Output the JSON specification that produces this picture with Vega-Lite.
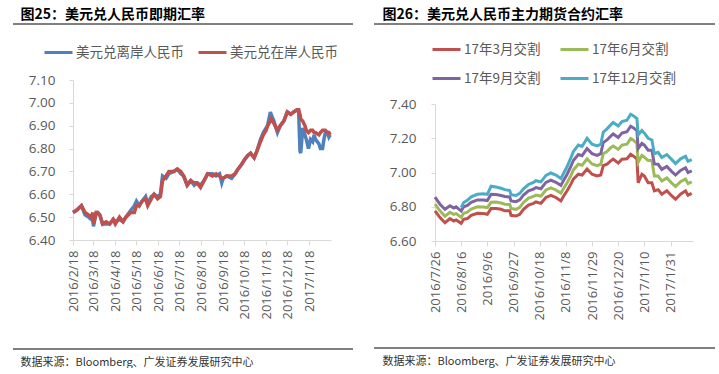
{
  "$schema": "https://vega.github.io/schema/vega-lite/v6.json",
  "padding": {"left": 12, "top": 8, "right": 0, "bottom": 0},
  "background": "white",
  "spacing": 19,
  "resolve": {"scale": {"color": "independent", "x": "independent", "y": "independent"}, "legend": {"color": "independent"}},
  "config": {
    "view": {"stroke": null},
    "font": "Noto Sans CJK SC",
    "axis": {"grid": false, "domainColor": "#d9d9d9", "tickColor": "#d9d9d9", "labelColor": "#595959", "labelFont": "Open Sans", "title": null},
    "legend": {"symbolType": "stroke", "symbolSize": 784, "symbolStrokeWidth": 3, "labelFont": "Noto Sans CJK SC", "labelFontSize": 13.5, "labelColor": "#595959", "labelOffset": 2, "title": null},
    "title": {"font": "Noto Sans CJK SC"}
  },
  "datasets": {
    "spot": [
      {"d": "2016-02-18", "美元兑离岸人民币": 6.52, "美元兑在岸人民币": 6.52},
      {"d": "2016-02-23", "美元兑离岸人民币": 6.53, "美元兑在岸人民币": 6.53},
      {"d": "2016-03-01", "美元兑离岸人民币": 6.55, "美元兑在岸人民币": 6.55},
      {"d": "2016-03-06", "美元兑离岸人民币": 6.51, "美元兑在岸人民币": 6.52},
      {"d": "2016-03-11", "美元兑离岸人民币": 6.50, "美元兑在岸人民币": 6.51},
      {"d": "2016-03-15", "美元兑离岸人民币": 6.49, "美元兑在岸人民币": 6.50},
      {"d": "2016-03-17", "美元兑离岸人民币": 6.51, "美元兑在岸人民币": 6.52},
      {"d": "2016-03-18", "美元兑离岸人民币": 6.46, "美元兑在岸人民币": 6.47},
      {"d": "2016-03-22", "美元兑离岸人民币": 6.52, "美元兑在岸人民币": 6.52},
      {"d": "2016-03-24", "美元兑离岸人民币": 6.52, "美元兑在岸人民币": 6.52},
      {"d": "2016-03-27", "美元兑离岸人民币": 6.51, "美元兑在岸人民币": 6.51},
      {"d": "2016-03-31", "美元兑离岸人民币": 6.47, "美元兑在岸人民币": 6.47},
      {"d": "2016-04-05", "美元兑离岸人民币": 6.47, "美元兑在岸人民币": 6.48},
      {"d": "2016-04-10", "美元兑离岸人民币": 6.47, "美元兑在岸人民币": 6.47},
      {"d": "2016-04-15", "美元兑离岸人民币": 6.49, "美元兑在岸人民币": 6.49},
      {"d": "2016-04-18", "美元兑离岸人民币": 6.48, "美元兑在岸人民币": 6.47},
      {"d": "2016-04-24", "美元兑离岸人民币": 6.49, "美元兑在岸人民币": 6.50},
      {"d": "2016-04-29", "美元兑离岸人民币": 6.48, "美元兑在岸人民币": 6.48},
      {"d": "2016-05-03", "美元兑离岸人民币": 6.50, "美元兑在岸人民币": 6.50},
      {"d": "2016-05-10", "美元兑离岸人民币": 6.53, "美元兑在岸人民币": 6.52},
      {"d": "2016-05-15", "美元兑离岸人民币": 6.55, "美元兑在岸人民币": 6.52},
      {"d": "2016-05-18", "美元兑离岸人民币": 6.57, "美元兑在岸人民币": 6.55},
      {"d": "2016-05-22", "美元兑离岸人民币": 6.55, "美元兑在岸人民币": 6.55},
      {"d": "2016-05-26", "美元兑离岸人民币": 6.57, "美元兑在岸人民币": 6.57},
      {"d": "2016-05-31", "美元兑离岸人民币": 6.59, "美元兑在岸人民币": 6.58},
      {"d": "2016-06-03", "美元兑离岸人民币": 6.56, "美元兑在岸人民币": 6.55},
      {"d": "2016-06-08", "美元兑离岸人民币": 6.59, "美元兑在岸人民币": 6.58},
      {"d": "2016-06-12", "美元兑离岸人民币": 6.60, "美元兑在岸人民币": 6.60},
      {"d": "2016-06-17", "美元兑离岸人民币": 6.59, "美元兑在岸人民币": 6.58},
      {"d": "2016-06-21", "美元兑离岸人民币": 6.60, "美元兑在岸人民币": 6.59},
      {"d": "2016-06-24", "美元兑离岸人民币": 6.68, "美元兑在岸人民币": 6.66},
      {"d": "2016-06-29", "美元兑离岸人民币": 6.67, "美元兑在岸人民币": 6.68},
      {"d": "2016-07-03", "美元兑离岸人民币": 6.69, "美元兑在岸人民币": 6.70},
      {"d": "2016-07-10", "美元兑离岸人民币": 6.70, "美元兑在岸人民币": 6.70},
      {"d": "2016-07-15", "美元兑离岸人民币": 6.71, "美元兑在岸人民币": 6.71},
      {"d": "2016-07-20", "美元兑离岸人民币": 6.69, "美元兑在岸人民币": 6.70},
      {"d": "2016-07-24", "美元兑离岸人民币": 6.68, "美元兑在岸人民币": 6.68},
      {"d": "2016-07-29", "美元兑离岸人民币": 6.64, "美元兑在岸人民币": 6.64},
      {"d": "2016-08-03", "美元兑离岸人民币": 6.66, "美元兑在岸人民币": 6.66},
      {"d": "2016-08-08", "美元兑离岸人民币": 6.64, "美元兑在岸人民币": 6.65},
      {"d": "2016-08-12", "美元兑离岸人民币": 6.65, "美元兑在岸人民币": 6.65},
      {"d": "2016-08-17", "美元兑离岸人民币": 6.64, "美元兑在岸人民币": 6.63},
      {"d": "2016-08-22", "美元兑离岸人民币": 6.66, "美元兑在岸人民币": 6.66},
      {"d": "2016-08-27", "美元兑离岸人民币": 6.69, "美元兑在岸人民币": 6.69},
      {"d": "2016-09-03", "美元兑离岸人民币": 6.69, "美元兑在岸人民币": 6.68},
      {"d": "2016-09-08", "美元兑离岸人民币": 6.68, "美元兑在岸人民币": 6.69},
      {"d": "2016-09-13", "美元兑离岸人民币": 6.69, "美元兑在岸人民币": 6.68},
      {"d": "2016-09-16", "美元兑离岸人民币": 6.65, "美元兑在岸人民币": 6.67},
      {"d": "2016-09-18", "美元兑离岸人民币": 6.67, "美元兑在岸人民币": 6.67},
      {"d": "2016-09-23", "美元兑离岸人民币": 6.68, "美元兑在岸人民币": 6.68},
      {"d": "2016-09-30", "美元兑离岸人民币": 6.67, "美元兑在岸人民币": 6.68},
      {"d": "2016-10-05", "美元兑离岸人民币": 6.69, "美元兑在岸人民币": 6.69},
      {"d": "2016-10-09", "美元兑离岸人民币": 6.71, "美元兑在岸人民币": 6.71},
      {"d": "2016-10-14", "美元兑离岸人民币": 6.73, "美元兑在岸人民币": 6.73},
      {"d": "2016-10-18", "美元兑离岸人民币": 6.75, "美元兑在岸人民币": 6.75},
      {"d": "2016-10-23", "美元兑离岸人民币": 6.77, "美元兑在岸人民币": 6.77},
      {"d": "2016-10-27", "美元兑离岸人民币": 6.78, "美元兑在岸人民币": 6.78},
      {"d": "2016-11-01", "美元兑离岸人民币": 6.76, "美元兑在岸人民币": 6.76},
      {"d": "2016-11-05", "美元兑离岸人民币": 6.79, "美元兑在岸人民币": 6.79},
      {"d": "2016-11-10", "美元兑离岸人民币": 6.84, "美元兑在岸人民币": 6.83},
      {"d": "2016-11-14", "美元兑离岸人民币": 6.87, "美元兑在岸人民币": 6.86},
      {"d": "2016-11-18", "美元兑离岸人民币": 6.89, "美元兑在岸人民币": 6.88},
      {"d": "2016-11-20", "美元兑离岸人民币": 6.90, "美元兑在岸人民币": 6.90},
      {"d": "2016-11-24", "美元兑离岸人民币": 6.96, "美元兑在岸人民币": 6.92},
      {"d": "2016-11-25", "美元兑离岸人民币": 6.95, "美元兑在岸人民币": 6.93},
      {"d": "2016-11-29", "美元兑离岸人民币": 6.92, "美元兑在岸人民币": 6.91},
      {"d": "2016-12-04", "美元兑离岸人民币": 6.87, "美元兑在岸人民币": 6.88},
      {"d": "2016-12-08", "美元兑离岸人民币": 6.90, "美元兑在岸人民币": 6.90},
      {"d": "2016-12-13", "美元兑离岸人民币": 6.92, "美元兑在岸人民币": 6.92},
      {"d": "2016-12-18", "美元兑离岸人民币": 6.96, "美元兑在岸人民币": 6.96},
      {"d": "2016-12-23", "美元兑离岸人民币": 6.95, "美元兑在岸人民币": 6.95},
      {"d": "2016-12-27", "美元兑离岸人民币": 6.96, "美元兑在岸人民币": 6.96},
      {"d": "2017-01-01", "美元兑离岸人民币": 6.97, "美元兑在岸人民币": 6.97},
      {"d": "2017-01-03", "美元兑离岸人民币": 6.97, "美元兑在岸人民币": 6.97},
      {"d": "2017-01-05", "美元兑离岸人民币": 6.79, "美元兑在岸人民币": 6.95},
      {"d": "2017-01-06", "美元兑离岸人民币": 6.78, "美元兑在岸人民币": 6.93},
      {"d": "2017-01-09", "美元兑离岸人民币": 6.89, "美元兑在岸人民币": 6.92},
      {"d": "2017-01-12", "美元兑离岸人民币": 6.86, "美元兑在岸人民币": 6.90},
      {"d": "2017-01-14", "美元兑离岸人民币": 6.84, "美元兑在岸人民币": 6.88},
      {"d": "2017-01-17", "美元兑离岸人民币": 6.80, "美元兑在岸人民币": 6.87},
      {"d": "2017-01-20", "美元兑离岸人民币": 6.84, "美元兑在岸人民币": 6.88},
      {"d": "2017-01-23", "美元兑离岸人民币": 6.83, "美元兑在岸人民币": 6.88},
      {"d": "2017-01-25", "美元兑离岸人民币": 6.86, "美元兑在岸人民币": 6.87},
      {"d": "2017-01-27", "美元兑离岸人民币": 6.84, "美元兑在岸人民币": 6.87},
      {"d": "2017-02-01", "美元兑离岸人民币": 6.82, "美元兑在岸人民币": 6.86},
      {"d": "2017-02-03", "美元兑离岸人民币": 6.80, "美元兑在岸人民币": 6.87},
      {"d": "2017-02-06", "美元兑离岸人民币": 6.80, "美元兑在岸人民币": 6.88},
      {"d": "2017-02-08", "美元兑离岸人民币": 6.84, "美元兑在岸人民币": 6.88},
      {"d": "2017-02-10", "美元兑离岸人民币": 6.87, "美元兑在岸人民币": 6.88},
      {"d": "2017-02-13", "美元兑离岸人民币": 6.87, "美元兑在岸人民币": 6.87},
      {"d": "2017-02-15", "美元兑离岸人民币": 6.85, "美元兑在岸人民币": 6.87},
      {"d": "2017-02-17", "美元兑离岸人民币": 6.86, "美元兑在岸人民币": 6.86}
    ],
    "fut": [
      {"d": "2016-07-26", "17年3月交割": 6.776, "17年6月交割": 6.815, "17年9月交割": 6.856},
      {"d": "2016-07-30", "17年3月交割": 6.737, "17年6月交割": 6.776, "17年9月交割": 6.815},
      {"d": "2016-08-03", "17年3月交割": 6.707, "17年6月交割": 6.745, "17年9月交割": 6.785},
      {"d": "2016-08-07", "17年3月交割": 6.731, "17年6月交割": 6.768, "17年9月交割": 6.806},
      {"d": "2016-08-10", "17年3月交割": 6.717, "17年6月交割": 6.755, "17年9月交割": 6.792},
      {"d": "2016-08-12", "17年3月交割": 6.723, "17年6月交割": 6.760, "17年9月交割": 6.800},
      {"d": "2016-08-16", "17年3月交割": 6.703, "17年6月交割": 6.738, "17年9月交割": 6.775, "17年12月交割": 6.795},
      {"d": "2016-08-18", "17年3月交割": 6.727, "17年6月交割": 6.762, "17年9月交割": 6.800, "17年12月交割": 6.825},
      {"d": "2016-08-21", "17年3月交割": 6.731, "17年6月交割": 6.768, "17年9月交割": 6.808, "17年12月交割": 6.838},
      {"d": "2016-08-24", "17年3月交割": 6.750, "17年6月交割": 6.787, "17年9月交割": 6.826, "17年12月交割": 6.858},
      {"d": "2016-08-29", "17年3月交割": 6.762, "17年6月交割": 6.800, "17年9月交割": 6.840, "17年12月交割": 6.873},
      {"d": "2016-09-03", "17年3月交割": 6.760, "17年6月交割": 6.798, "17年9月交割": 6.840, "17年12月交割": 6.876},
      {"d": "2016-09-06", "17年3月交割": 6.756, "17年6月交割": 6.795, "17年9月交割": 6.836, "17年12月交割": 6.872},
      {"d": "2016-09-09", "17年3月交割": 6.790, "17年6月交割": 6.826, "17年9月交割": 6.873, "17年12月交割": 6.920},
      {"d": "2016-09-13", "17年3月交割": 6.790, "17年6月交割": 6.828, "17年9月交割": 6.872, "17年12月交割": 6.915},
      {"d": "2016-09-17", "17年3月交割": 6.785, "17年6月交割": 6.822, "17年9月交割": 6.866, "17年12月交割": 6.908},
      {"d": "2016-09-20", "17年3月交割": 6.776, "17年6月交割": 6.815, "17年9月交割": 6.860, "17年12月交割": 6.900},
      {"d": "2016-09-24", "17年3月交割": 6.776, "17年6月交割": 6.813, "17年9月交割": 6.857, "17年12月交割": 6.895},
      {"d": "2016-09-25", "17年3月交割": 6.750, "17年6月交割": 6.790, "17年9月交割": 6.834, "17年12月交割": 6.870},
      {"d": "2016-09-29", "17年3月交割": 6.746, "17年6月交割": 6.785, "17年9月交割": 6.830, "17年12月交割": 6.866},
      {"d": "2016-10-02", "17年3月交割": 6.756, "17年6月交割": 6.796, "17年9月交割": 6.840, "17年12月交割": 6.878},
      {"d": "2016-10-05", "17年3月交割": 6.785, "17年6月交割": 6.825, "17年9月交割": 6.868, "17年12月交割": 6.905},
      {"d": "2016-10-09", "17年3月交割": 6.810, "17年6月交割": 6.850, "17年9月交割": 6.893, "17年12月交割": 6.930},
      {"d": "2016-10-13", "17年3月交割": 6.820, "17年6月交割": 6.860, "17年9月交割": 6.903, "17年12月交割": 6.942},
      {"d": "2016-10-15", "17年3月交割": 6.828, "17年6月交割": 6.868, "17年9月交割": 6.912, "17年12月交割": 6.952},
      {"d": "2016-10-19", "17年3月交割": 6.820, "17年6月交割": 6.862, "17年9月交割": 6.905, "17年12月交割": 6.945},
      {"d": "2016-10-23", "17年3月交割": 6.854, "17年6月交割": 6.898, "17年9月交割": 6.942, "17年12月交割": 6.983},
      {"d": "2016-10-27", "17年3月交割": 6.867, "17年6月交割": 6.910, "17年9月交割": 6.955, "17年12月交割": 6.997},
      {"d": "2016-10-31", "17年3月交割": 6.854, "17年6月交割": 6.898, "17年9月交割": 6.943, "17年12月交割": 6.985},
      {"d": "2016-11-04", "17年3月交割": 6.834, "17年6月交割": 6.880, "17年9月交割": 6.925, "17年12月交割": 6.965},
      {"d": "2016-11-06", "17年3月交割": 6.860, "17年6月交割": 6.905, "17年9月交割": 6.952, "17年12月交割": 6.993},
      {"d": "2016-11-09", "17年3月交割": 6.893, "17年6月交割": 6.940, "17年9月交割": 6.990, "17年12月交割": 7.035},
      {"d": "2016-11-12", "17年3月交割": 6.932, "17年6月交割": 6.982, "17年9月交割": 7.035, "17年12月交割": 7.085},
      {"d": "2016-11-14", "17年3月交割": 6.961, "17年6月交割": 7.015, "17年9月交割": 7.070, "17年12月交割": 7.122},
      {"d": "2016-11-18", "17年3月交割": 6.990, "17年6月交割": 7.048, "17年9月交割": 7.105, "17年12月交割": 7.160},
      {"d": "2016-11-21", "17年3月交割": 6.985, "17年6月交割": 7.042, "17年9月交割": 7.098, "17年12月交割": 7.152},
      {"d": "2016-11-25", "17年3月交割": 7.020, "17年6月交割": 7.080, "17年9月交割": 7.140, "17年12月交割": 7.200},
      {"d": "2016-11-29", "17年3月交割": 6.990, "17年6月交割": 7.050, "17年9月交割": 7.110, "17年12月交割": 7.165},
      {"d": "2016-12-03", "17年3月交割": 6.980, "17年6月交割": 7.040, "17年9月交割": 7.100, "17年12月交割": 7.155},
      {"d": "2016-12-06", "17年3月交割": 6.985, "17年6月交割": 7.048, "17年9月交割": 7.110, "17年12月交割": 7.165},
      {"d": "2016-12-08", "17年3月交割": 7.040, "17年6月交割": 7.110, "17年9月交割": 7.175, "17年12月交割": 7.235},
      {"d": "2016-12-11", "17年3月交割": 7.049, "17年6月交割": 7.122, "17年9月交割": 7.190, "17年12月交割": 7.255},
      {"d": "2016-12-14", "17年3月交割": 7.068, "17年6月交割": 7.145, "17年9月交割": 7.212, "17年12月交割": 7.278},
      {"d": "2016-12-16", "17年3月交割": 7.078, "17年6月交割": 7.155, "17年9月交割": 7.225, "17年12月交割": 7.292},
      {"d": "2016-12-20", "17年3月交割": 7.055, "17年6月交割": 7.135, "17年9月交割": 7.205, "17年12月交割": 7.272},
      {"d": "2016-12-23", "17年3月交割": 7.078, "17年6月交割": 7.160, "17年9月交割": 7.230, "17年12月交割": 7.298},
      {"d": "2016-12-27", "17年3月交割": 7.080, "17年6月交割": 7.165, "17年9月交割": 7.238, "17年12月交割": 7.305},
      {"d": "2016-12-30", "17年3月交割": 7.107, "17年6月交割": 7.198, "17年9月交割": 7.270, "17年12月交割": 7.340},
      {"d": "2017-01-01", "17年3月交割": 7.097, "17年6月交割": 7.190, "17年9月交割": 7.262, "17年12月交割": 7.332},
      {"d": "2017-01-04", "17年3月交割": 7.080, "17年6月交割": 7.170, "17年9月交割": 7.245, "17年12月交割": 7.315},
      {"d": "2017-01-05", "17年3月交割": 6.940, "17年6月交割": 7.060, "17年9月交割": 7.140, "17年12月交割": 7.220},
      {"d": "2017-01-08", "17年3月交割": 6.990, "17年6月交割": 7.100, "17年9月交割": 7.170, "17年12月交割": 7.245},
      {"d": "2017-01-10", "17年3月交割": 6.980, "17年6月交割": 7.090, "17年9月交割": 7.160, "17年12月交割": 7.230},
      {"d": "2017-01-13", "17年3月交割": 6.940, "17年6月交割": 7.070, "17年9月交割": 7.130, "17年12月交割": 7.200},
      {"d": "2017-01-16", "17年3月交割": 6.940, "17年6月交割": 7.070, "17年9月交割": 7.130, "17年12月交割": 7.190},
      {"d": "2017-01-18", "17年3月交割": 6.893, "17年6月交割": 6.980, "17年9月交割": 7.050, "17年12月交割": 7.110},
      {"d": "2017-01-21", "17年3月交割": 6.900, "17年6月交割": 6.980, "17年9月交割": 7.048, "17年12月交割": 7.118},
      {"d": "2017-01-24", "17年3月交割": 6.873, "17年6月交割": 6.950, "17年9月交割": 7.018, "17年12月交割": 7.088},
      {"d": "2017-01-28", "17年3月交割": 6.893, "17年6月交割": 6.968, "17年9月交割": 7.035, "17年12月交割": 7.105},
      {"d": "2017-02-01", "17年3月交割": 6.863, "17年6月交割": 6.938, "17年9月交割": 7.005, "17年12月交割": 7.075},
      {"d": "2017-02-04", "17年3月交割": 6.844, "17年6月交割": 6.918, "17年9月交割": 6.985, "17年12月交割": 7.052},
      {"d": "2017-02-08", "17年3月交割": 6.873, "17年6月交割": 6.946, "17年9月交割": 7.012, "17年12月交割": 7.080},
      {"d": "2017-02-12", "17年3月交割": 6.893, "17年6月交割": 6.962, "17年9月交割": 7.028, "17年12月交割": 7.095},
      {"d": "2017-02-14", "17年3月交割": 6.867, "17年6月交割": 6.935, "17年9月交割": 7.000, "17年12月交割": 7.065},
      {"d": "2017-02-17", "17年3月交割": 6.878, "17年6月交割": 6.945, "17年9月交割": 7.010, "17年12月交割": 7.075}
    ]
  },
  "hconcat": [
    {
      "spacing": 12,
      "resolve": {"scale": {"color": "independent"}, "legend": {"color": "independent"}},
      "vconcat": [
        {
          "width": 340, "height": 1,
          "data": {"values": [{"rule": 0}]},
          "mark": {"type": "rule", "color": "#000000", "strokeWidth": 1},
          "encoding": {"y": {"field": "rule", "type": "quantitative", "scale": {"domain": [0, 1]}, "axis": null}},
          "title": {"text": "图25：美元兑人民币即期汇率", "anchor": "start", "dx": 8, "offset": 1, "fontSize": 14, "fontWeight": "bold", "color": "#000000"}
        },
        {
          "spacing": 0,
          "resolve": {"scale": {"color": "independent"}, "legend": {"color": "independent"}},
          "hconcat": [
            {"width": 1, "height": 1, "data": {"values": [{}]}, "mark": {"type": "point", "opacity": 0, "size": 0}, "encoding": {}},
            {
              "width": 258, "height": 160,
              "data": {"name": "spot", "format": {"parse": {"d": "date:'%Y-%m-%d'"}}},
              "transform": [{"fold": ["美元兑离岸人民币", "美元兑在岸人民币"], "as": ["series", "value"]}],
              "mark": {"type": "line", "strokeWidth": 3.5},
              "encoding": {
                "x": {
                  "field": "d", "type": "temporal",
                  "scale": {"domain": [{"year": 2016, "month": 2, "date": 18}, {"year": 2017, "month": 2, "date": 18}]},
                  "axis": {
                    "values": [
                      {"year": 2016, "month": 2, "date": 18}, {"year": 2016, "month": 3, "date": 18}, {"year": 2016, "month": 4, "date": 18},
                      {"year": 2016, "month": 5, "date": 18}, {"year": 2016, "month": 6, "date": 18}, {"year": 2016, "month": 7, "date": 18},
                      {"year": 2016, "month": 8, "date": 18}, {"year": 2016, "month": 9, "date": 18}, {"year": 2016, "month": 10, "date": 18},
                      {"year": 2016, "month": 11, "date": 18}, {"year": 2016, "month": 12, "date": 18}, {"year": 2017, "month": 1, "date": 18}
                    ],
                    "format": "%Y/%-m/%-d", "labelAngle": -90, "tickSize": 5, "labelPadding": 5, "minExtent": 96, "labelFontSize": 13
                  }
                },
                "y": {
                  "field": "value", "type": "quantitative",
                  "scale": {"domain": [6.4, 7.1], "zero": false, "nice": false},
                  "axis": {"values": [6.4, 6.5, 6.6, 6.7, 6.8, 6.9, 7.0, 7.1], "format": ".2f", "tickSize": 4, "labelPadding": 14, "minExtent": 59, "labelFontSize": 13.5}
                },
                "color": {
                  "field": "series", "type": "nominal",
                  "scale": {"domain": ["美元兑离岸人民币", "美元兑在岸人民币"], "range": ["#4F81BD", "#C0504D"]},
                  "legend": {"orient": "none", "legendX": -30, "legendY": -43, "direction": "horizontal", "columnPadding": 8}
                }
              }
            }
          ]
        },
        {
          "width": 340, "height": 1,
          "data": {"values": [{"rule": 1}]},
          "mark": {"type": "rule", "color": "#000000", "strokeWidth": 1},
          "encoding": {"y": {"field": "rule", "type": "quantitative", "scale": {"domain": [0, 1]}, "axis": null}},
          "title": {"text": "数据来源：Bloomberg、广发证券发展研究中心", "orient": "bottom", "anchor": "start", "dx": 8, "offset": 7, "fontSize": 11, "fontWeight": "normal", "color": "#333333"}
        }
      ]
    },
    {
      "spacing": 9,
      "resolve": {"scale": {"color": "independent"}, "legend": {"color": "independent"}},
      "vconcat": [
        {
          "width": 341, "height": 1,
          "data": {"values": [{"rule": 0}]},
          "mark": {"type": "rule", "color": "#000000", "strokeWidth": 1},
          "encoding": {"y": {"field": "rule", "type": "quantitative", "scale": {"domain": [0, 1]}, "axis": null}},
          "title": {"text": "图26：美元兑人民币主力期货合约汇率", "anchor": "start", "dx": 9, "offset": 1, "fontSize": 14, "fontWeight": "bold", "color": "#000000"}
        },
        {
          "spacing": 0,
          "resolve": {"scale": {"color": "independent"}, "legend": {"color": "independent"}},
          "hconcat": [
            {"width": 1, "height": 1, "data": {"values": [{}]}, "mark": {"type": "point", "opacity": 0, "size": 0}, "encoding": {}},
            {
              "width": 258, "height": 137,
              "data": {"name": "fut", "format": {"parse": {"d": "date:'%Y-%m-%d'"}}},
              "transform": [{"fold": ["17年3月交割", "17年6月交割", "17年9月交割", "17年12月交割"], "as": ["series", "value"]}],
              "mark": {"type": "line", "strokeWidth": 3},
              "encoding": {
                "x": {
                  "field": "d", "type": "temporal",
                  "scale": {"domain": [{"year": 2016, "month": 7, "date": 26}, {"year": 2017, "month": 2, "date": 18}]},
                  "axis": {
                    "values": [
                      {"year": 2016, "month": 7, "date": 26}, {"year": 2016, "month": 8, "date": 16}, {"year": 2016, "month": 9, "date": 6},
                      {"year": 2016, "month": 9, "date": 27}, {"year": 2016, "month": 10, "date": 18}, {"year": 2016, "month": 11, "date": 8},
                      {"year": 2016, "month": 11, "date": 29}, {"year": 2016, "month": 12, "date": 20}, {"year": 2017, "month": 1, "date": 10},
                      {"year": 2017, "month": 1, "date": 31}
                    ],
                    "format": "%Y/%-m/%-d", "labelAngle": -90, "tickSize": 5, "labelPadding": 5, "minExtent": 97, "labelFontSize": 13
                  }
                },
                "y": {
                  "field": "value", "type": "quantitative",
                  "scale": {"domain": [6.6, 7.4], "zero": false, "nice": false},
                  "axis": {"values": [6.6, 6.8, 7.0, 7.2, 7.4], "format": ".2f", "tickSize": 4, "labelPadding": 15, "minExtent": 60, "labelFontSize": 13.5}
                },
                "color": {
                  "field": "series", "type": "nominal",
                  "scale": {"domain": ["17年3月交割", "17年6月交割", "17年9月交割", "17年12月交割"], "range": ["#C0504D", "#9BBB59", "#8064A2", "#4BACC6"]},
                  "legend": {"orient": "none", "legendX": -4, "legendY": -70, "direction": "horizontal", "columns": 2, "columnPadding": 13, "rowPadding": 7}
                }
              }
            }
          ]
        },
        {
          "width": 341, "height": 1,
          "data": {"values": [{"rule": 1}]},
          "mark": {"type": "rule", "color": "#000000", "strokeWidth": 1},
          "encoding": {"y": {"field": "rule", "type": "quantitative", "scale": {"domain": [0, 1]}, "axis": null}},
          "title": {"text": "数据来源：Bloomberg、广发证券发展研究中心", "orient": "bottom", "anchor": "start", "dx": 9, "offset": 7, "fontSize": 11, "fontWeight": "normal", "color": "#333333"}
        }
      ]
    }
  ]
}
